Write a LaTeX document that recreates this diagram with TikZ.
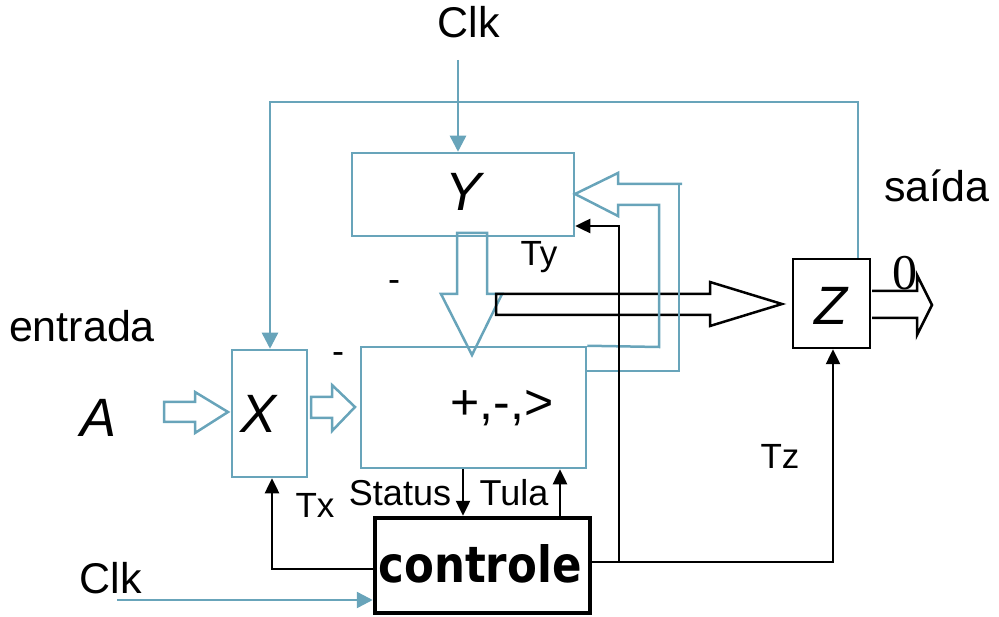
\documentclass[tikz,border=0pt]{standalone}
\usepackage{fontspec}
\setmainfont{Liberation Sans}
\newfontfamily\ctrlfont[FakeStretch=0.87]{DejaVu Sans}
\newfontfamily\numfont{Liberation Serif}
\usetikzlibrary{arrows.meta}
\definecolor{bl}{RGB}{104,164,186}
\begin{document}
\begin{tikzpicture}[x=1pt,y=-1pt,
  bluebox/.style={draw=bl,line width=2.5pt,inner sep=0pt},
  blackbox/.style={draw=black,line width=2.5pt,inner sep=0pt},
  blarrow/.style={draw=bl,line width=2.5pt,-{Triangle[length=16pt,width=16pt]}},
  bkarrow/.style={draw=black,line width=2.5pt,-{Triangle[length=15pt,width=14pt]}},
  fatblue/.style={draw=bl,line width=2.5pt,line join=miter},
  fatblack/.style={draw=black,line width=2.5pt,line join=miter},
  lbl/.style={inner sep=0pt,anchor=base,font=\fontsize{43}{50}\selectfont},
  sml/.style={inner sep=0pt,anchor=base,font=\fontsize{36}{42}\selectfont},
  big/.style={inner sep=0pt,anchor=base,font=\fontsize{54}{60}\selectfont\itshape}]
\useasboundingbox (0,0) rectangle (999,617);
% boxes
\node[bluebox,minimum width=222pt,minimum height=83pt] (Y) at (463,194.5) {};
\node[bluebox,minimum width=225pt,minimum height=121pt] (ALU) at (473.5,407.5) {};
\node[bluebox,minimum width=75pt,minimum height=127pt] (X) at (269.5,413.5) {};
\node[blackbox,minimum width=77pt,minimum height=89pt] (Z) at (831.5,303.5) {};
\node[draw=black,line width=4.5pt,inner sep=0pt,minimum width=215pt,minimum height=95pt] (C) at (482.5,565.5) {};
% texts
\node[lbl] (clkT) at (469,38) {Clk};
\node[lbl] (clkB) at (111,593) {Clk};
\node[lbl] (entrada) at (82,342) {entrada};
\node[lbl] (saida) at (937,202) {saída};
\node[big] (tA) at (99,437) {A};
\node[big] (tX) at (259,433) {X};
\node[big] (tY) at (464,211) {Y};
\node[big] (tZ) at (831,325) {Z};
\node[inner sep=0pt,anchor=base,font=\fontsize{50}{56}\selectfont] (ops) at (502,420) {+,-,>};
\node[sml] (status) at (400,505) {Status};
\node[sml] (tula) at (514,505) {Tula};
\node[sml,font=\fontsize{35}{40}\selectfont] (tx) at (315,517) {Tx};
\node[sml,font=\fontsize{35}{40}\selectfont] (ty) at (539,266) {Ty};
\node[sml,font=\fontsize{35}{40}\selectfont] (tz) at (780,468) {Tz};
\node[sml] (m1) at (394,292) {-};
\node[sml] (m2) at (338,364) {-};
\node[inner sep=0pt,anchor=base,font=\fontsize{50}{56}\selectfont\ctrlfont\bfseries] (ctl) at (480,582) {controle};
\node[inner sep=0pt,anchor=base,font=\fontsize{50}{56}\selectfont\numfont] (zero) at (905,290) {0};
% fat arrows
\draw[fatblue] (164,402) -- (195,402) -- (195,392) -- (228,412) -- (195,433) -- (195,422) -- (164,422) -- cycle;
\draw[fatblue] (311,397) -- (332,397) -- (332,385) -- (355,407) -- (332,431) -- (332,418) -- (311,418) -- cycle;
\draw[fatblue] (457,233) -- (457,294) -- (441,294) -- (472,355) -- (502,294) -- (487,294) -- (487,233) -- cycle;
\draw[fatblack] (496,294) -- (710,294) -- (710,282) -- (782,304) -- (710,326) -- (710,315) -- (496,315) -- cycle;
\draw[fatblack] (872,291) -- (917,291) -- (917,275) -- (932,305) -- (917,335) -- (917,318) -- (872,318);
\draw[fatblue] (682,184) -- (618,184) -- (618,173) -- (575,194) -- (618,216) -- (618,205) -- (659,205) -- (659,347) -- (ALU.north east);
\draw[fatblue] (679,184) -- (679,371) -- (ALU.east |- 0,371);
% connectors
\draw[blarrow] (458,60) -- (Y.north -| 458,0);
\draw[blarrow] (Z.north -| 858,0) -- (858,102) -- (270,102) -- (X.north -| 270,0);
\draw[blarrow] (117,600) -- (C.west |- 0,600);
\draw[bkarrow] (ALU.south -| 463,0) -- (C.north -| 463,0);
\draw[bkarrow] (C.north -| 560,0) -- (ALU.south -| 560,0);
\draw[bkarrow] (C.west |- 0,569) -- (272,569) -- (X.south -| 272,0);
\draw[bkarrow] (C.east |- 0,562) -- (833,562) -- (Z.south -| 833,0);
\draw[bkarrow] (619,562) -- (619,226) -- (Y.east |- 0,226);
\end{tikzpicture}
\end{document}
